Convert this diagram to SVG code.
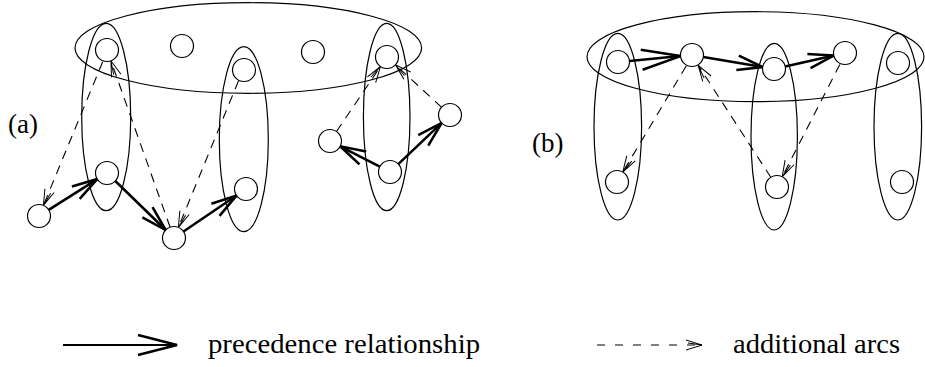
<svg xmlns="http://www.w3.org/2000/svg" width="925" height="367" viewBox="0 0 925 367">
<style>
.n{fill:#fff;stroke:#000;stroke-width:1.2}
.g{fill:none;stroke:#000;stroke-width:1.2}
.s{fill:none;stroke:#000;stroke-width:2.5}
.d{fill:none;stroke:#000;stroke-width:1.1;stroke-dasharray:9 7}
.t{font-family:'Liberation Serif','Times New Roman',Times,serif;font-size:27px;fill:#000}
</style>
<defs>
<marker id="arr" markerUnits="userSpaceOnUse" orient="auto" refX="0" refY="0" markerWidth="40" markerHeight="40" viewBox="-40 -20 44 40" overflow="visible">
<path d="M-28,-8 L0,0 L-28,8" fill="none" stroke="#000" stroke-width="2.8"/>
</marker>
<marker id="arrL" markerUnits="userSpaceOnUse" orient="auto" refX="0" refY="0" markerWidth="50" markerHeight="40" viewBox="-46 -20 50 40" overflow="visible">
<path d="M-39,-10 L0,0 L-39,10" fill="none" stroke="#000" stroke-width="2.5"/>
</marker>
<marker id="da" markerUnits="userSpaceOnUse" orient="auto" refX="0" refY="0" markerWidth="24" markerHeight="16" viewBox="-20 -8 24 16" overflow="visible">
<path d="M-16,-5 L0,0 L-16,5 M-14,-2 L0,0" fill="none" stroke="#000" stroke-width="1"/>
</marker>
</defs>

<g id="groups">
<g id="ringA"><ellipse class="g" cx="248.3" cy="48" rx="173.3" ry="45.3"/></g>
<g id="colA1"><ellipse class="g" cx="106.2" cy="117" rx="24.5" ry="93.7"/></g>
<g id="colA2"><ellipse class="g" cx="243.8" cy="139.2" rx="24.5" ry="92.5"/></g>
<g id="colA3"><ellipse class="g" cx="386.7" cy="117" rx="23.3" ry="93.7"/></g>
<g id="ringB"><ellipse class="g" cx="755.5" cy="56.7" rx="168.5" ry="45"/></g>
<g id="colB1"><ellipse class="g" cx="617.8" cy="126.7" rx="23.8" ry="93.3"/></g>
<g id="colB2"><ellipse class="g" cx="774.2" cy="136.7" rx="23.2" ry="93.3"/></g>
<g id="colB3"><ellipse class="g" cx="897.8" cy="126.7" rx="23.8" ry="93.3"/></g>
</g>

<g id="connectors">
<line class="s" x1="48.7" y1="209.9" x2="97.3" y2="179.1" marker-end="url(#arr)"/>
<line class="s" x1="115.3" y1="181" x2="165.7" y2="230" marker-end="url(#arr)"/>
<line class="s" x1="183.5" y1="231.5" x2="236.5" y2="195.5" marker-end="url(#arr)"/>
<line class="s" x1="379.8" y1="166.7" x2="340.2" y2="146.3" marker-end="url(#arr)"/>
<line class="s" x1="398.3" y1="164.1" x2="441.7" y2="122.9" marker-end="url(#arr)"/>
<line class="s" x1="629.5" y1="60.9" x2="680.5" y2="56.1" marker-end="url(#arrL)"/>
<line class="s" x1="703.3" y1="56.9" x2="762.7" y2="67.1" marker-end="url(#arr)"/>
<line class="s" x1="785.2" y1="66.5" x2="833.8" y2="55.5" marker-end="url(#arr)"/>

<line class="d" x1="102.6" y1="62" x2="43.4" y2="205.4" marker-end="url(#da)"/>
<line class="d" x1="170.1" y1="227.2" x2="110.9" y2="60.8" marker-end="url(#da)"/>
<line class="d" x1="238.6" y1="80.6" x2="178.4" y2="227.4" marker-end="url(#da)"/>
<line class="d" x1="336.5" y1="131.5" x2="380.5" y2="66.5" marker-end="url(#da)"/>
<line class="d" x1="441.5" y1="107.2" x2="395.5" y2="64.8" marker-end="url(#da)"/>
<line class="d" x1="686.2" y1="66" x2="622.8" y2="172.1" marker-end="url(#da)"/>
<line class="d" x1="770.8" y1="177.3" x2="698.2" y2="65.3" marker-end="url(#da)"/>
<line class="d" x1="839.8" y1="64.5" x2="782.2" y2="176.7" marker-end="url(#da)"/>
</g>

<g id="a1"><circle class="n" cx="107" cy="50" r="11.5"/></g>
<g id="a2"><circle class="n" cx="182" cy="46" r="11.5"/></g>
<g id="a3"><circle class="n" cx="244" cy="70" r="11.5"/></g>
<g id="a4"><circle class="n" cx="313" cy="52" r="11.5"/></g>
<g id="a5"><circle class="n" cx="387" cy="57" r="11.5"/></g>
<g id="a6"><circle class="n" cx="107" cy="173" r="11.5"/></g>
<g id="a7"><circle class="n" cx="39" cy="216" r="11.5"/></g>
<g id="a8"><circle class="n" cx="174" cy="238" r="11.5"/></g>
<g id="a9"><circle class="n" cx="246" cy="189" r="11.5"/></g>
<g id="a10"><circle class="n" cx="330" cy="141" r="11.5"/></g>
<g id="a11"><circle class="n" cx="390" cy="172" r="11.5"/></g>
<g id="a12"><circle class="n" cx="450" cy="115" r="11.5"/></g>

<g id="b1"><circle class="n" cx="618" cy="62" r="11.5"/></g>
<g id="b2"><circle class="n" cx="692" cy="55" r="11.5"/></g>
<g id="b3"><circle class="n" cx="774" cy="69" r="11.5"/></g>
<g id="b4"><circle class="n" cx="845" cy="53" r="11.5"/></g>
<g id="b5"><circle class="n" cx="898" cy="63" r="11.5"/></g>
<g id="b6"><circle class="n" cx="617" cy="182" r="11.5"/></g>
<g id="b7"><circle class="n" cx="777" cy="187" r="11.5"/></g>
<g id="b8"><circle class="n" cx="902" cy="182" r="11.5"/></g>

<g id="labels">
<text class="t" x="8" y="133" font-family="Liberation Serif, serif">(a)</text>
<text class="t" x="532" y="152" font-family="Liberation Serif, serif">(b)</text>
</g>

<g id="legend">
<line x1="63" y1="345" x2="177" y2="345" stroke="#000" stroke-width="2" marker-end="url(#arrL)"/>
<text class="t" x="208" y="353" textLength="272" lengthAdjust="spacingAndGlyphs" font-family="Liberation Serif, serif">precedence relationship</text>
<line x1="597" y1="345" x2="702" y2="345" stroke="#000" stroke-width="1.1" stroke-dasharray="8 10" marker-end="url(#da)"/>
<text class="t" x="733" y="353" textLength="167" lengthAdjust="spacingAndGlyphs" font-family="Liberation Serif, serif">additional arcs</text>
</g>
</svg>
